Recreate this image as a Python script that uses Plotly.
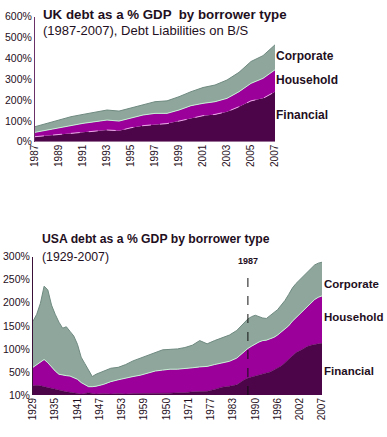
import plotly.graph_objects as go

# ---------------- data ----------------
uk_years = list(range(1987, 2008))
uk_financial = [24, 29, 35, 40, 45, 48, 56, 53, 67, 77, 83, 87, 99, 112, 125, 131, 144, 168, 196, 208, 240]
uk_household = [21, 27, 32, 40, 43, 48, 48, 46, 48, 51, 53, 49, 53, 61, 59, 61, 64, 72, 84, 96, 105]
uk_corporate = [27, 32, 37, 40, 43, 45, 48, 48, 48, 51, 56, 60, 64, 67, 76, 80, 88, 93, 105, 109, 120]
uk_tick_years = list(range(1987, 2008, 2))
uk_tick_text = [str(y) for y in uk_tick_years]
uk_y_ticks = [0, 100, 200, 300, 400, 500, 600]
uk_y_text = ["0%", "100%", "200%", "300%", "400%", "500%", "600%"]

us_years = [1929, 1930, 1931, 1932, 1933, 1934, 1935, 1936, 1937, 1938, 1939, 1940, 1941, 1942,
            1943, 1944, 1945, 1946, 1948, 1950, 1952, 1954, 1956, 1958, 1960, 1962, 1964, 1966,
            1968, 1970, 1972, 1974, 1976, 1978, 1980, 1982, 1984, 1986, 1987, 1988, 1989, 1990,
            1991, 1992, 1993, 1994, 1995, 1996, 1997, 1998, 1999, 2000, 2001, 2002, 2003, 2004,
            2005, 2006, 2007]
us_financial = [20, 21, 20, 18, 16, 14, 12, 10, 9, 7, 6, 5, 4, 2,
                3, 5, 3, 2, 3, 2, 3, 2, 3, 3, 3, 4, 4, 4,
                5, 5, 7, 8, 8, 12, 17, 19, 22, 33, 37, 39, 41, 43,
                45, 47, 50, 54, 58, 63, 70, 78, 86, 92, 96, 101, 105, 108,
                110, 111, 112]
us_household = [40, 45, 52, 59, 54, 46, 40, 35, 34, 35, 35, 33, 30, 25,
                19, 13, 15, 17, 20, 27, 30, 35, 37, 40, 44, 48, 50, 52,
                51, 52, 52, 53, 54, 54, 53, 54, 58, 62, 64, 67, 70, 72,
                73, 72, 72, 71, 72, 73, 72, 72, 74, 76, 79, 82, 87, 92,
                97, 101, 103]
us_corporate = [100, 109, 127, 159, 158, 135, 123, 113, 102, 106, 97, 90, 76, 55,
                46, 37, 22, 26, 28, 29, 27, 29, 34, 37, 39, 40, 44, 43,
                44, 46, 49, 57, 49, 52, 54, 57, 60, 63, 64, 64, 62, 55,
                49, 47, 50, 53, 55, 59, 63, 68, 72, 74, 75, 77, 76, 75,
                75, 74, 73]
us_tick_years = [1929, 1935, 1941, 1947, 1953, 1959, 1965, 1971, 1977, 1983, 1989, 1995, 2001, 2007]
us_tick_text = ["1929", "1935", "1941", "1947", "1953", "1959", "1950", "1971", "1977", "1983",
                "1990", "1996", "2002", "2007"]
us_y_ticks = [0, 50, 100, 150, 200, 250, 300]
us_y_text = ["10%", "50%", "100%", "150%", "200%", "250%", "300%"]
mark_year = 1987

# ---------------- style ----------------
W, H = 387, 437
FONT = "Liberation Sans, Arial, sans-serif"
C_FIN = "#4b0548"
C_HOU = "#9c009a"
C_COR = "#8fa69c"
TXT = "#1f0f22"

def px_x(p):
    return p / W

def px_y(p):
    return 1 - p / H

fig = go.Figure()

# UK
fig.add_trace(go.Scatter(x=uk_years, y=uk_financial, stackgroup="uk", mode="lines",
                         line=dict(color="#e9a6e6", width=1, dash="dash"), fillcolor=C_FIN,
                         xaxis="x", yaxis="y", hoverinfo="skip"))
fig.add_trace(go.Scatter(x=uk_years, y=uk_household, stackgroup="uk", mode="lines",
                         line=dict(color="#c6f0d4", width=1), fillcolor=C_HOU,
                         xaxis="x", yaxis="y", hoverinfo="skip"))
fig.add_trace(go.Scatter(x=uk_years, y=uk_corporate, stackgroup="uk", mode="lines",
                         line=dict(color="#6f8a80", width=1), fillcolor=C_COR,
                         xaxis="x", yaxis="y", hoverinfo="skip"))

# USA
fig.add_trace(go.Scatter(x=us_years, y=us_financial, stackgroup="us", mode="lines",
                         line=dict(color=C_FIN, width=0.5), fillcolor=C_FIN,
                         xaxis="x2", yaxis="y2", hoverinfo="skip"))
fig.add_trace(go.Scatter(x=us_years, y=us_household, stackgroup="us", mode="lines",
                         line=dict(color="#c6f0d4", width=1), fillcolor=C_HOU,
                         xaxis="x2", yaxis="y2", hoverinfo="skip"))
fig.add_trace(go.Scatter(x=us_years, y=us_corporate, stackgroup="us", mode="lines",
                         line=dict(color="#6f8a80", width=1), fillcolor=C_COR,
                         xaxis="x2", yaxis="y2", hoverinfo="skip"))

tickfont = dict(family=FONT, size=10.5, color=TXT)
xtickfont = dict(family=FONT, size=10, color=TXT)

fig.update_layout(
    width=W, height=H, margin=dict(l=0, r=0, t=0, b=0, autoexpand=False),
    paper_bgcolor="white", plot_bgcolor="white", showlegend=False,
    xaxis=dict(domain=[px_x(35), px_x(275)], range=[1987, 2007], tickvals=uk_tick_years,
               ticktext=uk_tick_text, tickangle=-90, tickfont=xtickfont, showgrid=False,
               zeroline=False, showline=False, ticks="", anchor="y", automargin=False),
    yaxis=dict(domain=[px_y(141.7), px_y(16.7)], range=[0, 600], tickvals=uk_y_ticks,
               ticktext=uk_y_text, tickfont=tickfont, showgrid=False, zeroline=False,
               showline=True, linecolor="#6a3068", linewidth=1, ticks="", anchor="x",
               automargin=False),
    xaxis2=dict(domain=[px_x(33), px_x(322)], range=[1929, 2007], tickvals=us_tick_years,
                ticktext=us_tick_text, tickangle=-90, tickfont=xtickfont, showgrid=False,
                zeroline=False, showline=False, ticks="", anchor="y2", automargin=False),
    yaxis2=dict(domain=[px_y(395), px_y(256.7)], range=[0, 300], tickvals=us_y_ticks,
                ticktext=us_y_text, tickfont=tickfont, showgrid=False, zeroline=False,
                showline=True, linecolor="#3a1038", linewidth=1, ticks="", anchor="x2",
                automargin=False),
)

fig.add_shape(type="line", xref="x2", yref="y2", x0=mark_year, x1=mark_year, y0=0, y1=266,
              line=dict(color="#111111", width=1, dash="dash"))

ann = []
def label(text, x, y, size=13, bold=False):
    ann.append(dict(text=f"<b>{text}</b>" if bold else text, xref="paper", yref="paper",
                    x=px_x(x), y=px_y(y), xanchor="left", yanchor="middle", showarrow=False,
                    font=dict(family=FONT, size=size, color=TXT)))

label("UK debt as a % GDP  by borrower type", 41, 14, size=13.3, bold=True)
label("(1987-2007), Debt Liabilities on B/S", 41, 31, size=13)
label("Corporate", 274, 56.5, size=12, bold=True)
label("Household", 274, 80, size=12, bold=True)
label("Financial", 274, 115, size=12, bold=True)

label("USA debt as a % GDP by borrower type", 40, 239, size=12.2, bold=True)
label("(1929-2007)", 40, 256.5, size=12.3)
label("Corporate", 322, 283.5, size=11.5, bold=True)
label("Household", 322, 316.5, size=11.5, bold=True)
label("Financial", 322, 370.5, size=11.5, bold=True)

ann.append(dict(text="<b>1987</b>", xref="x2", yref="paper", x=mark_year, y=px_y(261),
                xanchor="center", yanchor="middle", showarrow=False,
                font=dict(family=FONT, size=9, color=TXT)))
fig.update_layout(annotations=ann)

fig.write_html("out.html", config={"displayModeBar": False, "staticPlot": True},
               post_script="document.body.style.margin='0';document.body.style.padding='0';")
